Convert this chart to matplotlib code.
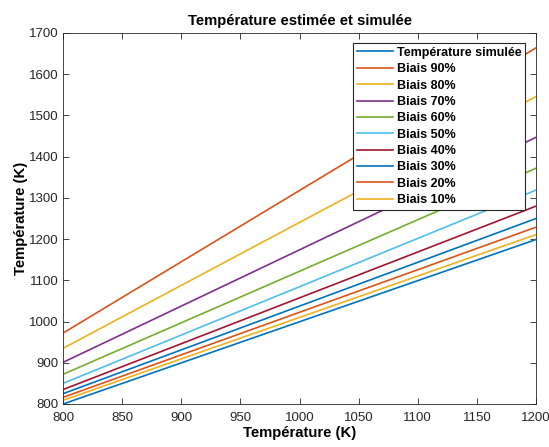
import matplotlib
matplotlib.use("Agg")
import matplotlib.pyplot as plt

plt.rcParams['font.family'] = ['Liberation Sans', 'DejaVu Sans']

x_vals = [800, 1200]
labels = ["Température simulée", "Biais 90%", "Biais 80%", "Biais 70%", "Biais 60%",
          "Biais 50%", "Biais 40%", "Biais 30%", "Biais 20%", "Biais 10%"]
start_vals = [800, 972, 935, 901, 872, 850, 835, 825, 816, 809]
end_vals = [1199, 1664, 1546, 1447, 1372, 1319, 1280, 1250, 1229, 1211]
colors = ["#0072BD", "#D95319", "#EDB120", "#7E2F8E", "#77AC30",
          "#4DBEEE", "#A2142F", "#0072BD", "#D95319", "#EDB120"]

xticks = [800, 850, 900, 950, 1000, 1050, 1100, 1150, 1200]
yticks = [800, 900, 1000, 1100, 1200, 1300, 1400, 1500, 1600, 1700]

fig = plt.figure(figsize=(5.49, 4.47), dpi=100)
ax = fig.add_axes([0.1148, 0.0962, 0.8616, 0.830])

for lab, s, e, c in zip(labels, start_vals, end_vals, colors):
    ax.plot(x_vals, [s, e], color=c, lw=1.2, label=lab)

ax.set_xlim(800, 1200)
ax.set_ylim(800, 1700)
ax.set_xticks(xticks)
ax.set_yticks(yticks)
ax.tick_params(direction='in', top=True, right=True, length=4, width=0.6,
               labelsize=9.5, colors='#262626')
ax.tick_params(axis='x', pad=6)
ax.tick_params(axis='y', pad=3)
for lbl in ax.get_xticklabels() + ax.get_yticklabels():
    lbl.set_fontweight('medium')
for sp in ax.spines.values():
    sp.set_linewidth(0.6)
    sp.set_color('#262626')

ax.set_title("Température estimée et simulée", fontsize=10.7, fontweight='bold', pad=6)
ax.set_xlabel("Température (K)", fontsize=10.7, fontweight='bold', labelpad=1)
ax.set_ylabel("Température (K)", fontsize=10.7, fontweight='bold', labelpad=1)

leg = ax.legend(loc='upper right', bbox_to_anchor=(0.977, 0.973), prop={'weight': 'bold', 'size': 9},
                frameon=True, fancybox=False, edgecolor='#262626', framealpha=1,
                borderaxespad=0, handlelength=2.9, handletextpad=0.3, labelspacing=0.35,
                borderpad=0.3)
leg.get_frame().set_linewidth(0.8)

fig.savefig("out.png", dpi=100)
